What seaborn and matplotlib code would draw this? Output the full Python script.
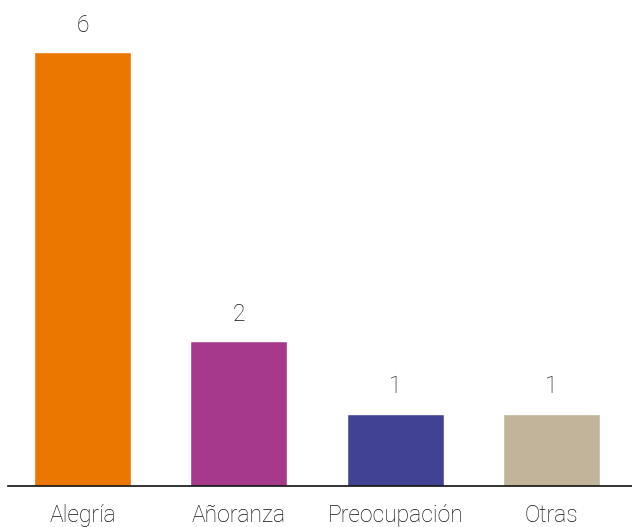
import seaborn as sns
import pandas as pd
from matplotlib import pyplot as plt

categorias = ['Alegría', 'Añoranza', 'Preocupación', 'Otras']
valores = [6, 2, 1, 1]
colores = ['#EC7700', '#A6398A', '#414293', '#C2B49A']

dados = pd.DataFrame({'categoria': categorias, 'valor': valores})

sns.set_style('white')
plt.rcParams['font.family'] = ['Roboto', 'DejaVu Sans']

fig = plt.figure(figsize=(6.32, 5.27), dpi=100)
ax = fig.add_axes([8 / 632, 41 / 527, 624 / 632, 486 / 527])

sns.barplot(data=dados, x='categoria', y='valor', hue='categoria',
            palette=colores, width=0.62, saturation=1, legend=False, ax=ax)

for cont in ax.containers:
    ax.bar_label(cont, padding=11, fontsize=16.5, color='#111111',
                 fontweight='light')

ax.set_xlim(-0.477, 3.515)
ax.set_ylim(0, 6.72)
ax.set_xlabel('')
ax.set_ylabel('')
ax.set_yticks([])
ax.tick_params(axis='x', length=0, pad=13, labelsize=16.5, labelcolor='#111111')
for lbl in ax.get_xticklabels():
    lbl.set_fontweight('light')
for s in ['top', 'right', 'left']:
    ax.spines[s].set_visible(False)
ax.spines['bottom'].set_color('#111111')
ax.spines['bottom'].set_linewidth(1.2)

plt.savefig('out.png', dpi=100)
